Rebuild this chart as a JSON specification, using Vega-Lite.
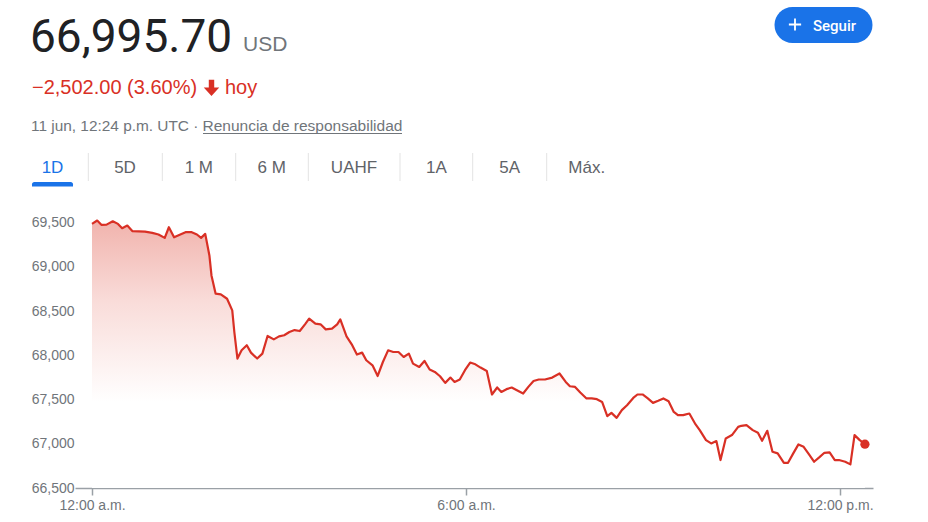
{
  "$schema": "https://vega.github.io/schema/vega-lite/v6.json",
  "width": 798,
  "height": 288,
  "autosize": {"type": "none"},
  "padding": {"left": 75, "top": 200, "right": 55, "bottom": 34},
  "background": "#ffffff",
  "config": {"view": {"stroke": null}},
  "datasets": {
    "header": [
      {"role": "price", "text": "66,995.70"},
      {"role": "unit", "text": "USD"},
      {"role": "change", "text": "−2,502.00 (3.60%)"},
      {"role": "today", "text": "hoy"},
      {"role": "stamp", "text": "11 jun, 12:24 p.m. UTC ·"},
      {"role": "link", "text": "Renuncia de responsabilidad"},
      {"role": "button", "text": "Seguir"},
      {"role": "tab", "text": "1D"},
      {"role": "tab", "text": "5D"},
      {"role": "tab", "text": "1 M"},
      {"role": "tab", "text": "6 M"},
      {"role": "tab", "text": "UAHF"},
      {"role": "tab", "text": "1A"},
      {"role": "tab", "text": "5A"},
      {"role": "tab", "text": "Máx."},
      {"role": "shape", "text": ""}
    ]
  },
  "layer": [
    {
      "data": {
        "format": {"parse": {"t": "utc:'%H:%M'"}},
        "values": [
          {"t": "00:00", "p": 69485}, {"t": "00:05", "p": 69523}, {"t": "00:09", "p": 69474}, {"t": "00:14", "p": 69477},
          {"t": "00:20", "p": 69515}, {"t": "00:25", "p": 69485}, {"t": "00:29", "p": 69436}, {"t": "00:34", "p": 69466},
          {"t": "00:39", "p": 69402}, {"t": "00:45", "p": 69400}, {"t": "00:51", "p": 69398}, {"t": "00:58", "p": 69384},
          {"t": "01:04", "p": 69365}, {"t": "01:10", "p": 69327}, {"t": "01:14", "p": 69447}, {"t": "01:19", "p": 69334},
          {"t": "01:25", "p": 69365}, {"t": "01:30", "p": 69391}, {"t": "01:36", "p": 69391}, {"t": "01:41", "p": 69365},
          {"t": "01:45", "p": 69327}, {"t": "01:49", "p": 69372}, {"t": "01:53", "p": 69128}, {"t": "01:55", "p": 68902},
          {"t": "01:59", "p": 68696}, {"t": "02:04", "p": 68688}, {"t": "02:10", "p": 68639}, {"t": "02:15", "p": 68507},
          {"t": "02:17", "p": 68263}, {"t": "02:20", "p": 67963}, {"t": "02:24", "p": 68056}, {"t": "02:29", "p": 68113},
          {"t": "02:33", "p": 68030}, {"t": "02:39", "p": 67963}, {"t": "02:44", "p": 68019}, {"t": "02:49", "p": 68218},
          {"t": "02:55", "p": 68180}, {"t": "03:00", "p": 68214}, {"t": "03:05", "p": 68226}, {"t": "03:10", "p": 68263},
          {"t": "03:15", "p": 68285}, {"t": "03:20", "p": 68274}, {"t": "03:25", "p": 68350}, {"t": "03:29", "p": 68414},
          {"t": "03:35", "p": 68357}, {"t": "03:40", "p": 68350}, {"t": "03:45", "p": 68293}, {"t": "03:51", "p": 68301},
          {"t": "03:56", "p": 68350}, {"t": "03:59", "p": 68406}, {"t": "04:05", "p": 68214}, {"t": "04:10", "p": 68124},
          {"t": "04:15", "p": 68008}, {"t": "04:20", "p": 68030}, {"t": "04:24", "p": 67944}, {"t": "04:30", "p": 67887},
          {"t": "04:35", "p": 67766}, {"t": "04:40", "p": 67924}, {"t": "04:45", "p": 68056}, {"t": "04:50", "p": 68037},
          {"t": "04:55", "p": 68037}, {"t": "05:00", "p": 67981}, {"t": "05:05", "p": 68019}, {"t": "05:09", "p": 67906},
          {"t": "05:15", "p": 67868}, {"t": "05:20", "p": 67936}, {"t": "05:25", "p": 67839}, {"t": "05:30", "p": 67812},
          {"t": "05:35", "p": 67763}, {"t": "05:40", "p": 67688}, {"t": "05:45", "p": 67748}, {"t": "05:49", "p": 67699},
          {"t": "05:54", "p": 67726}, {"t": "05:59", "p": 67831}, {"t": "06:04", "p": 67918}, {"t": "06:09", "p": 67898},
          {"t": "06:14", "p": 67861}, {"t": "06:20", "p": 67823}, {"t": "06:25", "p": 67557}, {"t": "06:30", "p": 67636},
          {"t": "06:34", "p": 67586}, {"t": "06:39", "p": 67617}, {"t": "06:44", "p": 67636}, {"t": "06:49", "p": 67605},
          {"t": "06:55", "p": 67568}, {"t": "07:00", "p": 67643}, {"t": "07:05", "p": 67710}, {"t": "07:10", "p": 67726},
          {"t": "07:16", "p": 67726}, {"t": "07:23", "p": 67748}, {"t": "07:30", "p": 67794}, {"t": "07:36", "p": 67699},
          {"t": "07:40", "p": 67650}, {"t": "07:45", "p": 67642}, {"t": "07:50", "p": 67579}, {"t": "07:56", "p": 67512},
          {"t": "08:01", "p": 67512}, {"t": "08:06", "p": 67504}, {"t": "08:11", "p": 67473}, {"t": "08:16", "p": 67312},
          {"t": "08:20", "p": 67349}, {"t": "08:25", "p": 67293}, {"t": "08:30", "p": 67380}, {"t": "08:35", "p": 67436},
          {"t": "08:41", "p": 67518}, {"t": "08:45", "p": 67557}, {"t": "08:50", "p": 67557}, {"t": "08:55", "p": 67512},
          {"t": "09:00", "p": 67462}, {"t": "09:05", "p": 67485}, {"t": "09:10", "p": 67512}, {"t": "09:15", "p": 67481},
          {"t": "09:20", "p": 67360}, {"t": "09:24", "p": 67323}, {"t": "09:29", "p": 67323}, {"t": "09:35", "p": 67342},
          {"t": "09:41", "p": 67218}, {"t": "09:45", "p": 67154}, {"t": "09:51", "p": 67041}, {"t": "09:56", "p": 67004},
          {"t": "10:01", "p": 67030}, {"t": "10:05", "p": 66816}, {"t": "10:10", "p": 67060}, {"t": "10:16", "p": 67098},
          {"t": "10:22", "p": 67191}, {"t": "10:25", "p": 67203}, {"t": "10:30", "p": 67210}, {"t": "10:36", "p": 67154},
          {"t": "10:41", "p": 67124}, {"t": "10:45", "p": 67033}, {"t": "10:50", "p": 67146}, {"t": "10:55", "p": 66909},
          {"t": "11:00", "p": 66891}, {"t": "11:06", "p": 66785}, {"t": "11:10", "p": 66785}, {"t": "11:15", "p": 66891},
          {"t": "11:20", "p": 66993}, {"t": "11:25", "p": 66966}, {"t": "11:30", "p": 66883}, {"t": "11:35", "p": 66797},
          {"t": "11:40", "p": 66846}, {"t": "11:45", "p": 66898}, {"t": "11:50", "p": 66903}, {"t": "11:55", "p": 66816},
          {"t": "11:59", "p": 66816}, {"t": "12:05", "p": 66797}, {"t": "12:10", "p": 66767}, {"t": "12:14", "p": 67098},
          {"t": "12:19", "p": 67041}, {"t": "12:24", "p": 66995.7}
        ]
      },
      "encoding": {
        "x": {
          "field": "t", "type": "temporal",
          "scale": {"type": "utc", "nice": false, "domain": [
            {"year": 1899, "month": 12, "date": 31, "hours": 23, "minutes": 43, "seconds": 38, "utc": true},
            {"year": 1900, "month": 1, "date": 1, "hours": 12, "minutes": 31, "seconds": 46, "utc": true}
          ]},
          "axis": {
            "title": null, "grid": false,
            "values": [
              {"year": 1900, "month": 1, "date": 1, "hours": 0, "utc": true},
              {"year": 1900, "month": 1, "date": 1, "hours": 6, "utc": true},
              {"year": 1900, "month": 1, "date": 1, "hours": 12, "utc": true}
            ],
            "labelExpr": "utcFormat(datum.value, '%-I:%M') + (utchours(datum.value) < 12 ? ' a.m.' : ' p.m.')",
            "domainColor": "#9aa0a6", "domainWidth": 1.5,
            "tickColor": "#9aa0a6", "tickWidth": 1.5, "tickSize": 7,
            "labelColor": "#70757a", "labelFontSize": 14, "labelFont": "Liberation Sans",
            "labelPadding": 3, "labelFlush": false
          }
        },
        "y": {
          "field": "p", "type": "quantitative",
          "scale": {"domain": [66500, 69755], "zero": false, "nice": false},
          "axis": {
            "title": null, "grid": false, "domain": false, "ticks": false, "tickSize": 0,
            "values": [66500, 67000, 67500, 68000, 68500, 69000, 69500],
            "labelExpr": "format(datum.value, ',')",
            "labelColor": "#70757a", "labelFontSize": 14, "labelFont": "Liberation Sans",
            "labelPadding": 1
          }
        }
      },
      "layer": [
        {"mark": {"type": "area", "color": {"gradient": "linear", "x1": 0, "y1": 0, "x2": 0, "y2": 1,
          "stops": [{"offset": 0, "color": "#f1b3ad"}, {"offset": 0.3, "color": "#f9dcd9"}, {"offset": 0.68, "color": "#ffffff"}]}},
         "encoding": {"y2": {"datum": 66500}}},
        {"mark": {"type": "line", "color": "#d93025", "strokeWidth": 2.2, "strokeJoin": "round"}},
        {"transform": [{"filter": "datum.p == 66995.7"}],
         "mark": {"type": "point", "filled": true, "size": 85, "color": "#d93025", "opacity": 1}}
      ]
    },
    {
      "data": {"name": "header"},
      "layer": [
        {"transform": [{"filter": "datum.role == 'price'"}],
         "mark": {"type": "text", "align": "left", "baseline": "alphabetic", "font": "Roboto", "fontSize": 46, "color": "#202124"},
         "encoding": {"x": {"datum": 30, "type": "quantitative", "scale": {"domain": [75, 873], "nice": false, "zero": false}, "axis": null},
                      "y": {"datum": 52, "type": "quantitative", "scale": {"domain": [488, 200], "nice": false, "zero": false}, "axis": null},
                      "text": {"field": "text"}}},
        {"transform": [{"filter": "datum.role == 'unit'"}],
         "mark": {"type": "text", "align": "left", "baseline": "alphabetic", "font": "Liberation Sans", "fontSize": 21, "color": "#70757a"},
         "encoding": {"x": {"datum": 243, "type": "quantitative", "scale": {"domain": [75, 873], "nice": false, "zero": false}, "axis": null},
                      "y": {"datum": 51, "type": "quantitative", "scale": {"domain": [488, 200], "nice": false, "zero": false}, "axis": null},
                      "text": {"field": "text"}}},
        {"transform": [{"filter": "datum.role == 'change'"}],
         "mark": {"type": "text", "align": "left", "baseline": "alphabetic", "font": "Liberation Sans", "fontSize": 20, "color": "#d93025"},
         "encoding": {"x": {"datum": 32, "type": "quantitative", "scale": {"domain": [75, 873], "nice": false, "zero": false}, "axis": null},
                      "y": {"datum": 94, "type": "quantitative", "scale": {"domain": [488, 200], "nice": false, "zero": false}, "axis": null},
                      "text": {"field": "text"}}},
        {"transform": [{"filter": "datum.role == 'shape'"}],
         "mark": {"type": "point", "filled": true, "opacity": 1, "color": "#d93025", "size": 240,
                  "shape": "M -0.35 -1 L 0.35 -1 L 0.35 0 L 1 0 L 0 1.1 L -1 0 L -0.35 0 Z"},
         "encoding": {"x": {"datum": 211.5, "type": "quantitative", "scale": {"domain": [75, 873], "nice": false, "zero": false}, "axis": null},
                      "y": {"datum": 87.5, "type": "quantitative", "scale": {"domain": [488, 200], "nice": false, "zero": false}, "axis": null}}},
        {"transform": [{"filter": "datum.role == 'today'"}],
         "mark": {"type": "text", "align": "left", "baseline": "alphabetic", "font": "Liberation Sans", "fontSize": 20, "color": "#d93025"},
         "encoding": {"x": {"datum": 225, "type": "quantitative", "scale": {"domain": [75, 873], "nice": false, "zero": false}, "axis": null},
                      "y": {"datum": 94, "type": "quantitative", "scale": {"domain": [488, 200], "nice": false, "zero": false}, "axis": null},
                      "text": {"field": "text"}}},
        {"transform": [{"filter": "datum.role == 'stamp'"}],
         "mark": {"type": "text", "align": "left", "baseline": "alphabetic", "font": "Liberation Sans", "fontSize": 15.4, "color": "#70757a"},
         "encoding": {"x": {"datum": 31, "type": "quantitative", "scale": {"domain": [75, 873], "nice": false, "zero": false}, "axis": null},
                      "y": {"datum": 131, "type": "quantitative", "scale": {"domain": [488, 200], "nice": false, "zero": false}, "axis": null},
                      "text": {"field": "text"}}},
        {"transform": [{"filter": "datum.role == 'link'"}],
         "mark": {"type": "text", "align": "left", "baseline": "alphabetic", "font": "Liberation Sans", "fontSize": 15.5, "color": "#70757a"},
         "encoding": {"x": {"datum": 202.5, "type": "quantitative", "scale": {"domain": [75, 873], "nice": false, "zero": false}, "axis": null},
                      "y": {"datum": 131, "type": "quantitative", "scale": {"domain": [488, 200], "nice": false, "zero": false}, "axis": null},
                      "text": {"field": "text"}}},
        {"transform": [{"filter": "datum.role == 'shape'"}],
         "mark": {"type": "rule", "color": "#70757a", "strokeWidth": 1},
         "encoding": {"x": {"datum": 203, "type": "quantitative", "scale": {"domain": [75, 873], "nice": false, "zero": false}, "axis": null},
                      "x2": {"datum": 402},
                      "y": {"datum": 133.5, "type": "quantitative", "scale": {"domain": [488, 200], "nice": false, "zero": false}, "axis": null}}},
        {"transform": [{"filter": "datum.role == 'shape'"}],
         "mark": {"type": "rect", "color": "#1a73e8", "cornerRadius": 18},
         "encoding": {"x": {"datum": 774.5, "type": "quantitative", "scale": {"domain": [75, 873], "nice": false, "zero": false}, "axis": null},
                      "x2": {"datum": 872.5},
                      "y": {"datum": 7, "type": "quantitative", "scale": {"domain": [488, 200], "nice": false, "zero": false}, "axis": null},
                      "y2": {"datum": 43}}},
        {"transform": [{"filter": "datum.role == 'shape'"}],
         "mark": {"type": "point", "filled": true, "opacity": 1, "color": "#ffffff", "size": 150,
                  "shape": "M -1 -0.15 L 1 -0.15 L 1 0.15 L -1 0.15 Z M -0.15 -1 L 0.15 -1 L 0.15 1 L -0.15 1 Z"},
         "encoding": {"x": {"datum": 795, "type": "quantitative", "scale": {"domain": [75, 873], "nice": false, "zero": false}, "axis": null},
                      "y": {"datum": 24.5, "type": "quantitative", "scale": {"domain": [488, 200], "nice": false, "zero": false}, "axis": null}}},
        {"transform": [{"filter": "datum.role == 'button'"}],
         "mark": {"type": "text", "align": "left", "baseline": "alphabetic", "font": "Roboto", "fontWeight": 500, "fontSize": 15, "color": "#ffffff"},
         "encoding": {"x": {"datum": 813, "type": "quantitative", "scale": {"domain": [75, 873], "nice": false, "zero": false}, "axis": null},
                      "y": {"datum": 30.5, "type": "quantitative", "scale": {"domain": [488, 200], "nice": false, "zero": false}, "axis": null},
                      "text": {"field": "text"}}},
        {"transform": [{"filter": "datum.role == 'tab' && datum.text == '1D'"}],
         "mark": {"type": "text", "align": "center", "baseline": "alphabetic", "font": "Liberation Sans", "fontSize": 17, "color": "#1a73e8"},
         "encoding": {"x": {"datum": 52.5, "type": "quantitative", "scale": {"domain": [75, 873], "nice": false, "zero": false}, "axis": null},
                      "y": {"datum": 173, "type": "quantitative", "scale": {"domain": [488, 200], "nice": false, "zero": false}, "axis": null},
                      "text": {"field": "text"}}},
        {"transform": [{"filter": "datum.role == 'tab' && datum.text == '5D'"}],
         "mark": {"type": "text", "align": "center", "baseline": "alphabetic", "font": "Liberation Sans", "fontSize": 17, "color": "#5f6368"},
         "encoding": {"x": {"datum": 125, "type": "quantitative", "scale": {"domain": [75, 873], "nice": false, "zero": false}, "axis": null},
                      "y": {"datum": 173, "type": "quantitative", "scale": {"domain": [488, 200], "nice": false, "zero": false}, "axis": null},
                      "text": {"field": "text"}}},
        {"transform": [{"filter": "datum.role == 'tab' && datum.text == '1 M'"}],
         "mark": {"type": "text", "align": "center", "baseline": "alphabetic", "font": "Liberation Sans", "fontSize": 17, "color": "#5f6368"},
         "encoding": {"x": {"datum": 198.8, "type": "quantitative", "scale": {"domain": [75, 873], "nice": false, "zero": false}, "axis": null},
                      "y": {"datum": 173, "type": "quantitative", "scale": {"domain": [488, 200], "nice": false, "zero": false}, "axis": null},
                      "text": {"field": "text"}}},
        {"transform": [{"filter": "datum.role == 'tab' && datum.text == '6 M'"}],
         "mark": {"type": "text", "align": "center", "baseline": "alphabetic", "font": "Liberation Sans", "fontSize": 17, "color": "#5f6368"},
         "encoding": {"x": {"datum": 271.7, "type": "quantitative", "scale": {"domain": [75, 873], "nice": false, "zero": false}, "axis": null},
                      "y": {"datum": 173, "type": "quantitative", "scale": {"domain": [488, 200], "nice": false, "zero": false}, "axis": null},
                      "text": {"field": "text"}}},
        {"transform": [{"filter": "datum.role == 'tab' && datum.text == 'UAHF'"}],
         "mark": {"type": "text", "align": "center", "baseline": "alphabetic", "font": "Liberation Sans", "fontSize": 17, "color": "#5f6368"},
         "encoding": {"x": {"datum": 354, "type": "quantitative", "scale": {"domain": [75, 873], "nice": false, "zero": false}, "axis": null},
                      "y": {"datum": 173, "type": "quantitative", "scale": {"domain": [488, 200], "nice": false, "zero": false}, "axis": null},
                      "text": {"field": "text"}}},
        {"transform": [{"filter": "datum.role == 'tab' && datum.text == '1A'"}],
         "mark": {"type": "text", "align": "center", "baseline": "alphabetic", "font": "Liberation Sans", "fontSize": 17, "color": "#5f6368"},
         "encoding": {"x": {"datum": 436.5, "type": "quantitative", "scale": {"domain": [75, 873], "nice": false, "zero": false}, "axis": null},
                      "y": {"datum": 173, "type": "quantitative", "scale": {"domain": [488, 200], "nice": false, "zero": false}, "axis": null},
                      "text": {"field": "text"}}},
        {"transform": [{"filter": "datum.role == 'tab' && datum.text == '5A'"}],
         "mark": {"type": "text", "align": "center", "baseline": "alphabetic", "font": "Liberation Sans", "fontSize": 17, "color": "#5f6368"},
         "encoding": {"x": {"datum": 509.7, "type": "quantitative", "scale": {"domain": [75, 873], "nice": false, "zero": false}, "axis": null},
                      "y": {"datum": 173, "type": "quantitative", "scale": {"domain": [488, 200], "nice": false, "zero": false}, "axis": null},
                      "text": {"field": "text"}}},
        {"transform": [{"filter": "datum.role == 'tab' && datum.text == 'Máx.'"}],
         "mark": {"type": "text", "align": "center", "baseline": "alphabetic", "font": "Liberation Sans", "fontSize": 17, "color": "#5f6368"},
         "encoding": {"x": {"datum": 586.7, "type": "quantitative", "scale": {"domain": [75, 873], "nice": false, "zero": false}, "axis": null},
                      "y": {"datum": 173, "type": "quantitative", "scale": {"domain": [488, 200], "nice": false, "zero": false}, "axis": null},
                      "text": {"field": "text"}}},
        {"transform": [{"filter": "datum.role == 'shape'"}],
         "mark": {"type": "rule", "color": "#e3e3e3", "strokeWidth": 1},
         "encoding": {"x": {"datum": 88.3, "type": "quantitative", "scale": {"domain": [75, 873], "nice": false, "zero": false}, "axis": null},
                      "y": {"datum": 153, "type": "quantitative", "scale": {"domain": [488, 200], "nice": false, "zero": false}, "axis": null},
                      "y2": {"datum": 181}}},
        {"transform": [{"filter": "datum.role == 'shape'"}],
         "mark": {"type": "rule", "color": "#e3e3e3", "strokeWidth": 1},
         "encoding": {"x": {"datum": 162.3, "type": "quantitative", "scale": {"domain": [75, 873], "nice": false, "zero": false}, "axis": null},
                      "y": {"datum": 153, "type": "quantitative", "scale": {"domain": [488, 200], "nice": false, "zero": false}, "axis": null},
                      "y2": {"datum": 181}}},
        {"transform": [{"filter": "datum.role == 'shape'"}],
         "mark": {"type": "rule", "color": "#e3e3e3", "strokeWidth": 1},
         "encoding": {"x": {"datum": 235.7, "type": "quantitative", "scale": {"domain": [75, 873], "nice": false, "zero": false}, "axis": null},
                      "y": {"datum": 153, "type": "quantitative", "scale": {"domain": [488, 200], "nice": false, "zero": false}, "axis": null},
                      "y2": {"datum": 181}}},
        {"transform": [{"filter": "datum.role == 'shape'"}],
         "mark": {"type": "rule", "color": "#e3e3e3", "strokeWidth": 1},
         "encoding": {"x": {"datum": 308.3, "type": "quantitative", "scale": {"domain": [75, 873], "nice": false, "zero": false}, "axis": null},
                      "y": {"datum": 153, "type": "quantitative", "scale": {"domain": [488, 200], "nice": false, "zero": false}, "axis": null},
                      "y2": {"datum": 181}}},
        {"transform": [{"filter": "datum.role == 'shape'"}],
         "mark": {"type": "rule", "color": "#e3e3e3", "strokeWidth": 1},
         "encoding": {"x": {"datum": 400, "type": "quantitative", "scale": {"domain": [75, 873], "nice": false, "zero": false}, "axis": null},
                      "y": {"datum": 153, "type": "quantitative", "scale": {"domain": [488, 200], "nice": false, "zero": false}, "axis": null},
                      "y2": {"datum": 181}}},
        {"transform": [{"filter": "datum.role == 'shape'"}],
         "mark": {"type": "rule", "color": "#e3e3e3", "strokeWidth": 1},
         "encoding": {"x": {"datum": 472.7, "type": "quantitative", "scale": {"domain": [75, 873], "nice": false, "zero": false}, "axis": null},
                      "y": {"datum": 153, "type": "quantitative", "scale": {"domain": [488, 200], "nice": false, "zero": false}, "axis": null},
                      "y2": {"datum": 181}}},
        {"transform": [{"filter": "datum.role == 'shape'"}],
         "mark": {"type": "rule", "color": "#e3e3e3", "strokeWidth": 1},
         "encoding": {"x": {"datum": 546.7, "type": "quantitative", "scale": {"domain": [75, 873], "nice": false, "zero": false}, "axis": null},
                      "y": {"datum": 153, "type": "quantitative", "scale": {"domain": [488, 200], "nice": false, "zero": false}, "axis": null},
                      "y2": {"datum": 181}}},
        {"transform": [{"filter": "datum.role == 'shape'"}],
         "mark": {"type": "rect", "color": "#1a73e8", "cornerRadiusTopLeft": 3, "cornerRadiusTopRight": 3},
         "encoding": {"x": {"datum": 32, "type": "quantitative", "scale": {"domain": [75, 873], "nice": false, "zero": false}, "axis": null},
                      "x2": {"datum": 73},
                      "y": {"datum": 182, "type": "quantitative", "scale": {"domain": [488, 200], "nice": false, "zero": false}, "axis": null},
                      "y2": {"datum": 186.5}}}
      ]
    }
  ],
  "resolve": {"scale": {"x": "independent", "y": "independent"}, "axis": {"x": "independent", "y": "independent"}}
}
